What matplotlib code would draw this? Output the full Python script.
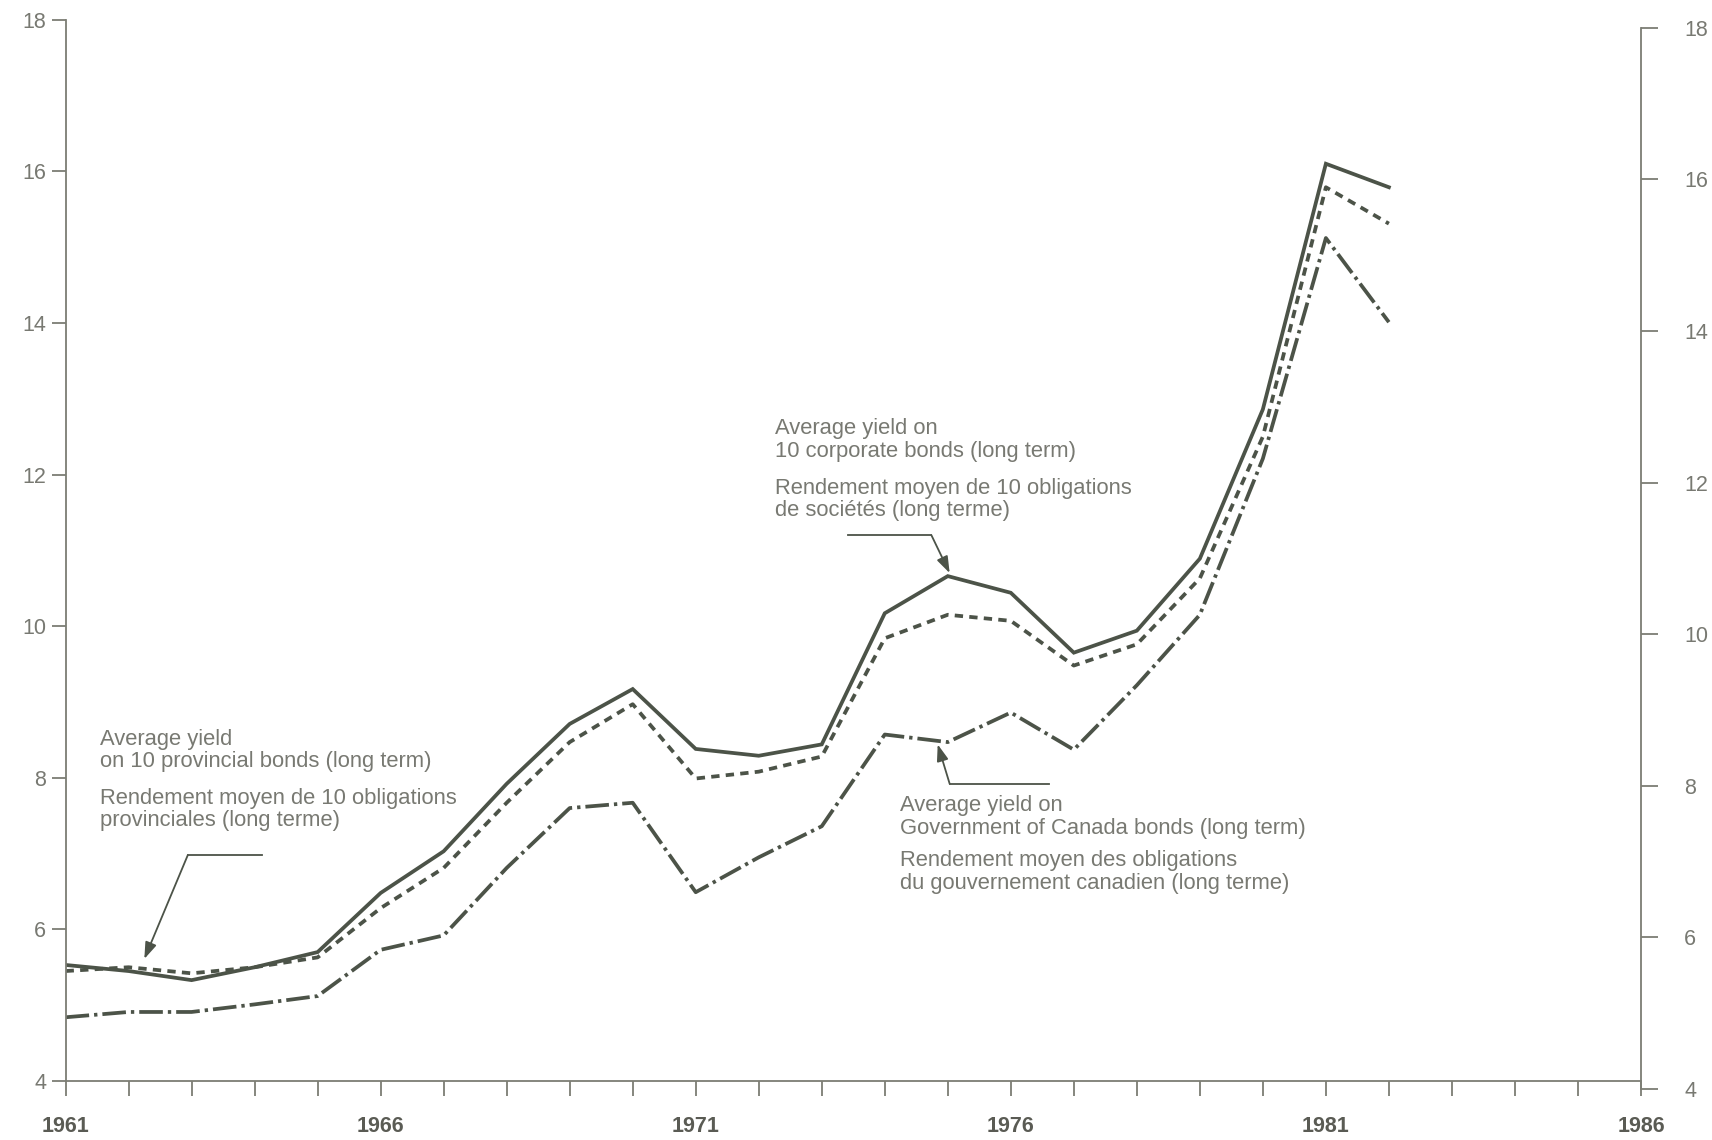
import numpy as np
import matplotlib.pyplot as plt

plt.rcParams['font.family'] = ['Liberation Sans', 'DejaVu Sans']
plt.rcParams['lines.scale_dashes'] = False

# yields in percent
years = np.arange(1961, 1983)
corporate = [5.53, 5.45, 5.33, 5.50, 5.70, 6.48, 7.03, 7.92, 8.71, 9.17, 8.38,
             8.29, 8.44, 10.17, 10.66, 10.44, 9.65, 9.94, 10.89, 12.86, 16.10, 15.79]
provincial = [5.45, 5.50, 5.42, 5.50, 5.63, 6.28, 6.81, 7.67, 8.47, 8.97, 7.99,
              8.08, 8.28, 9.84, 10.15, 10.07, 9.48, 9.76, 10.63, 12.50, 15.79, 15.31]
government = [4.84, 4.91, 4.91, 5.01, 5.12, 5.73, 5.92, 6.81, 7.60, 7.67, 6.49,
              6.95, 7.36, 8.57, 8.47, 8.86, 8.37, 9.22, 10.15, 12.21, 15.12, 14.01]

xticks = np.arange(1961, 1987)
xlabels = [str(y) if (y - 1961) % 5 == 0 else '' for y in xticks]
yticks = [4, 6, 8, 10, 12, 14, 16, 18]

line_c = '#4c5348'
axis_c = '#7c7d74'
text_c = '#787972'
lab_c = '#5a5b54'

fig = plt.figure(figsize=(17.12, 11.40), dpi=100)
ax = fig.add_axes([0.0383, 0.0518, 0.9202, 0.9309])

ax.plot(years, corporate, color=line_c, lw=2.7, ls='-', solid_joinstyle='miter')
ax.plot(years, provincial, color=line_c, lw=2.7, ls=(0, (6, 4.5)))
ax.plot(years, government, color=line_c, lw=2.7, ls=(0, (17, 3.6, 2.4, 3.6)))

ax.set_xlim(1961, 1986)
ax.set_ylim(4, 18)
ax.set_xticks(xticks, xlabels)
ax.set_yticks(yticks)
for s in ['top', 'right']:
    ax.spines[s].set_visible(False)
for s in ['left', 'bottom']:
    ax.spines[s].set_color(axis_c)
    ax.spines[s].set_linewidth(1.3)
ax.tick_params(axis='x', direction='out', length=11, width=1.3, color=axis_c,
               pad=14, labelsize=15.5, labelcolor=lab_c)
ax.tick_params(axis='y', direction='out', length=10, width=1.3, color=axis_c,
               pad=4, labelsize=15.5, labelcolor=text_c)
for t in ax.get_xticklabels():
    t.set_fontweight('bold')

# right-hand scale, sits a little lower on the scanned page
ax2 = fig.add_axes([0.0383, 0.0448, 0.9202, 0.9309])
ax2.patch.set_visible(False)
for s in ['top', 'left', 'bottom']:
    ax2.spines[s].set_visible(False)
ax2.spines['right'].set_color(axis_c)
ax2.spines['right'].set_linewidth(1.3)
ax2.set_xlim(1961, 1986)
ax2.set_ylim(4, 18)
ax2.set_xticks([])
ax2.yaxis.tick_right()
ax2.set_yticks(yticks)
ax2.tick_params(axis='y', direction='out', length=12, width=1.3, color=axis_c,
                pad=19, labelsize=15.5, labelcolor=text_c)

# annotations
fs = 15.8
prov_lines = ['Average yield', 'on 10 provincial bonds (long term)',
              'Rendement moyen de 10 obligations', 'provinciales (long terme)']
corp_lines = ['Average yield on', '10 corporate bonds (long term)',
              'Rendement moyen de 10 obligations', 'de sociétés (long terme)']
gov_lines = ['Average yield on', 'Government of Canada bonds (long term)',
             'Rendement moyen des obligations', 'du gouvernement canadien (long terme)']

def label_block(x, ys, lines):
    for y, s in zip(ys, lines):
        ax.text(x, y, s, fontsize=fs, color=text_c, va='center', ha='left')

def pointer(x0, x1, y, tip):
    ax.plot([x0, x1], [y, y], color=line_c, lw=1.3)
    ax.annotate('', xy=tip, xytext=(x1, y),
                arrowprops=dict(arrowstyle='-|>,head_length=1.0,head_width=0.35',
                                color=line_c, lw=1.3, shrinkA=0, shrinkB=0))

label_block(1961.55, [8.51, 8.22, 7.73, 7.43], prov_lines)
pointer(1964.12, 1962.94, 6.98, (1962.25, 5.61))

label_block(1972.26, [12.61, 12.31, 11.82, 11.52], corp_lines)
pointer(1973.42, 1974.74, 11.20, (1975.03, 10.70))

label_block(1974.24, [7.64, 7.33, 6.91, 6.61], gov_lines)
pointer(1976.61, 1975.03, 7.92, (1974.84, 8.44))

fig.savefig('out.png', dpi=100)
